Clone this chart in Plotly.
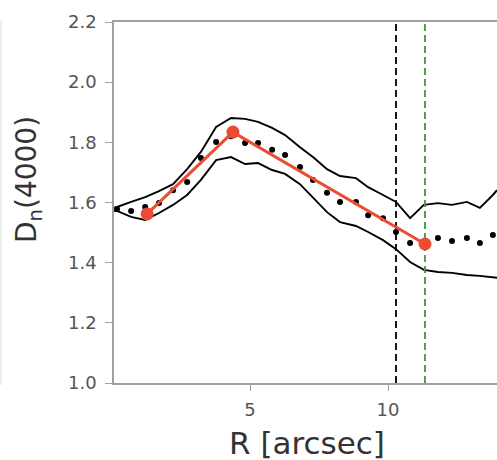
import plotly.graph_objects as go

# Data
r_dots = [0.18, 0.69, 1.20, 1.70, 2.21, 2.72, 3.22, 3.77, 4.31, 4.82, 5.29, 5.80, 6.27, 6.81,
          7.28, 7.79, 8.26, 8.84, 9.28, 9.82, 10.29, 10.80, 11.30, 11.81, 12.32, 12.86, 13.33, 13.80]
d_dots = [1.578, 1.572, 1.585, 1.598, 1.641, 1.668, 1.748, 1.801, 1.820, 1.798, 1.798, 1.775,
          1.758, 1.718, 1.675, 1.632, 1.602, 1.602, 1.558, 1.548, 1.502, 1.465, 1.459, 1.482,
          1.472, 1.482, 1.465, 1.492]

r_band = [0.07, 0.18, 0.69, 1.20, 1.70, 2.21, 2.72, 3.22, 3.77, 4.31, 4.82, 5.29, 5.80, 6.27, 6.81,
          7.28, 7.79, 8.26, 8.84, 9.28, 9.82, 10.29, 10.80, 11.30, 11.81, 12.32, 12.86, 13.33,
          13.80, 13.95]
d_upper = [1.582, 1.585, 1.602, 1.618, 1.638, 1.661, 1.711, 1.768, 1.851, 1.881, 1.878, 1.868,
           1.848, 1.824, 1.784, 1.751, 1.711, 1.688, 1.681, 1.651, 1.625, 1.602, 1.548, 1.592,
           1.598, 1.592, 1.602, 1.582, 1.625, 1.641]
d_lower = [1.572, 1.572, 1.552, 1.542, 1.565, 1.592, 1.625, 1.675, 1.741, 1.751, 1.728, 1.731,
           1.708, 1.695, 1.661, 1.615, 1.568, 1.535, 1.522, 1.502, 1.475, 1.445, 1.402, 1.376,
           1.369, 1.366, 1.359, 1.356, 1.352, 1.350]

r_fit = [1.27, 4.38, 11.34]
d_fit = [1.562, 1.834, 1.462]

r_black_line = 10.29
r_green_line = 11.34

x_ticks = [5, 10]
y_ticks = [1.0, 1.2, 1.4, 1.6, 1.8, 2.0, 2.2]
x_range = [0.07, 13.95]
y_range = [1.0, 2.2]

fig = go.Figure()

fig.add_trace(go.Scatter(x=r_band, y=d_upper, mode="lines",
                         line=dict(color="black", width=1.9), hoverinfo="skip"))
fig.add_trace(go.Scatter(x=r_band, y=d_lower, mode="lines",
                         line=dict(color="black", width=1.9), hoverinfo="skip"))
fig.add_trace(go.Scatter(x=r_dots, y=d_dots, mode="markers",
                         marker=dict(color="black", size=6)))

fig.add_trace(go.Scatter(x=[r_black_line, r_black_line], y=y_range, mode="lines",
                         line=dict(color="black", width=1.8, dash="7px,4px")))
fig.add_trace(go.Scatter(x=[r_green_line, r_green_line], y=y_range, mode="lines",
                         line=dict(color="#3f9a35", width=1.8, dash="7px,4px")))

fig.add_trace(go.Scatter(x=r_fit, y=d_fit, mode="lines+markers",
                         line=dict(color="#ec4b34", width=3),
                         marker=dict(color="#ec4b34", size=13)))

axis_font = dict(family="DejaVu Sans", size=18, color="#555555")

fig.update_layout(
    width=497, height=460,
    margin=dict(l=114, r=0, t=22, b=77),
    paper_bgcolor="white", plot_bgcolor="white",
    showlegend=False,
    xaxis=dict(range=x_range, tickvals=x_ticks, ticktext=[str(v) for v in x_ticks],
               showgrid=False, zeroline=False, showline=True, linecolor="#a0a0a0",
               linewidth=1.6, mirror=True, ticks="outside", ticklen=6, tickcolor="#a0a0a0",
               tickwidth=1.3, tickfont=axis_font, ticklabelstandoff=4),
    yaxis=dict(range=y_range, tickvals=y_ticks, ticktext=[f"{v:.1f}" for v in y_ticks],
               showgrid=False, zeroline=False, showline=True, linecolor="#a0a0a0",
               linewidth=1.6, ticks="outside", ticklen=7, tickcolor="#a0a0a0",
               tickwidth=1.3, tickfont=axis_font, ticklabelstandoff=5),
    annotations=[
        dict(text="D<sub>n</sub>(4000)", xref="paper", yref="paper",
             x=(28 - 114) / 383, y=1 - (180 - 22) / 361, xanchor="center", yanchor="middle",
             textangle=-90, showarrow=False,
             font=dict(family="DejaVu Sans", size=28, color="#333333")),
        dict(text="R [arcsec]", xref="paper", yref="paper",
             x=(307 - 114) / 383, y=-(443 - 383) / 361, xanchor="center", yanchor="middle",
             showarrow=False,
             font=dict(family="DejaVu Sans", size=31, color="#333333")),
    ],
    shapes=[dict(type="line", xref="paper", yref="paper",
                 x0=-113/383, x1=-113/383, y0=1 + 2/361, y1=-2/361,
                 line=dict(color="#dddddd", width=1))],
)

fig.write_html("out.html")
